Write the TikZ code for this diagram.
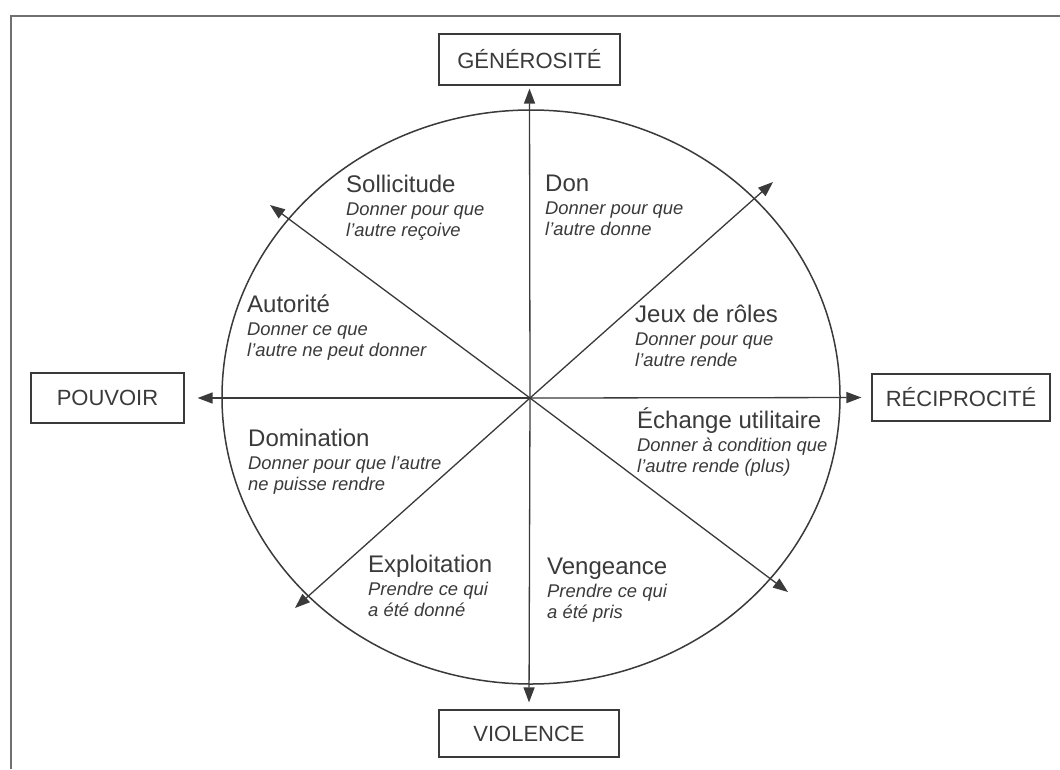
\documentclass[tikz,border=0pt]{standalone}
\usepackage{fontspec}
\setmainfont{Liberation Sans}
\usetikzlibrary{arrows.meta}
\definecolor{ink}{HTML}{3A3A3A}
\definecolor{framec}{HTML}{707070}
\newcommand\mysector[6]{%
  \node[ttl] (#1t) at (#2,#3) {#4};
  \node[subl] (#1a) at (#2,#3+23) {#5};
  \node[subl] (#1b) at (#2,#3+44) {#6};}
\begin{document}
\begin{tikzpicture}[x=1pt,y=-1pt,
  axis/.style={draw=ink, line width=1.3pt, -{Triangle[length=15pt,width=11pt]}},
  pole/.style={draw=ink, line width=1.2pt, text=ink, font=\fontsize{22}{26}\selectfont, inner sep=0pt},
  ttl/.style={anchor=base west, inner sep=0pt, text=ink, font=\fontsize{24}{28}\selectfont},
  subl/.style={anchor=base west, inner sep=0pt, text=ink, font=\fontsize{18.4}{22}\selectfont\itshape},
  ring/.style={draw=ink, line width=1.5pt},
  framel/.style={draw=framec, line width=2pt}]
\useasboundingbox (0,0) rectangle (1060,769);
\fill[white] (0,0) rectangle (1060,769);
\draw[framel] (11,769) -- (11,16) -- (1060,16);

% poles
\node[pole, minimum width=181pt, minimum height=51pt] (gen) at (529.5,59.5) {GÉNÉROSITÉ};
\node[pole, minimum width=180pt, minimum height=47pt] (vio) at (529,733.5) {VIOLENCE};
\node[pole, minimum width=153pt, minimum height=50pt] (pou) at (107.5,398) {POUVOIR};
\node[pole, minimum width=178pt, minimum height=47pt] (rec) at (961,397.5) {RÉCIPROCITÉ};

% circle
\draw[ring] (531,397) ellipse [x radius=309pt, y radius=287pt];

% centre and free ends
\coordinate (c) at (530,398);
\coordinate (nw) at (270,205);
\coordinate (ne) at (773,182);
\coordinate (sw) at (295,608);
\coordinate (se) at (788,592);

\draw[axis, shorten >=3pt] (c) -- (gen.south);
\draw[axis, shorten >=7pt] (c) -- (vio.north);
\draw[axis, shorten >=13pt] (c) -- (pou.east);
\draw[axis, shorten >=10pt] (c) -- (rec.west);
\draw[axis] (c) -- (nw);
\draw[axis] (c) -- (ne);
\draw[axis] (c) -- (sw);
\draw[axis] (c) -- (se);

% sectors
\mysector{soll}{346}{192}{Sollicitude}{Donner pour que}{l’autre reçoive}
\mysector{don}{545}{191}{Don}{Donner pour que}{l’autre donne}
\mysector{aut}{247}{312}{Autorité}{Donner ce que}{l’autre ne peut donner}
\mysector{jeux}{635}{322}{Jeux de rôles}{Donner pour que}{l’autre rende}
\mysector{dom}{248}{446}{Domination}{Donner pour que l’autre}{ne puisse rendre}
\mysector{expl}{368}{572}{Exploitation}{Prendre ce qui}{a été donné}
\mysector{ech}{637}{428}{Échange utilitaire}{Donner à condition que}{l’autre rende (plus)}
\mysector{ven}{547}{574}{Vengeance}{Prendre ce qui}{a été pris}
\end{tikzpicture}
\end{document}
